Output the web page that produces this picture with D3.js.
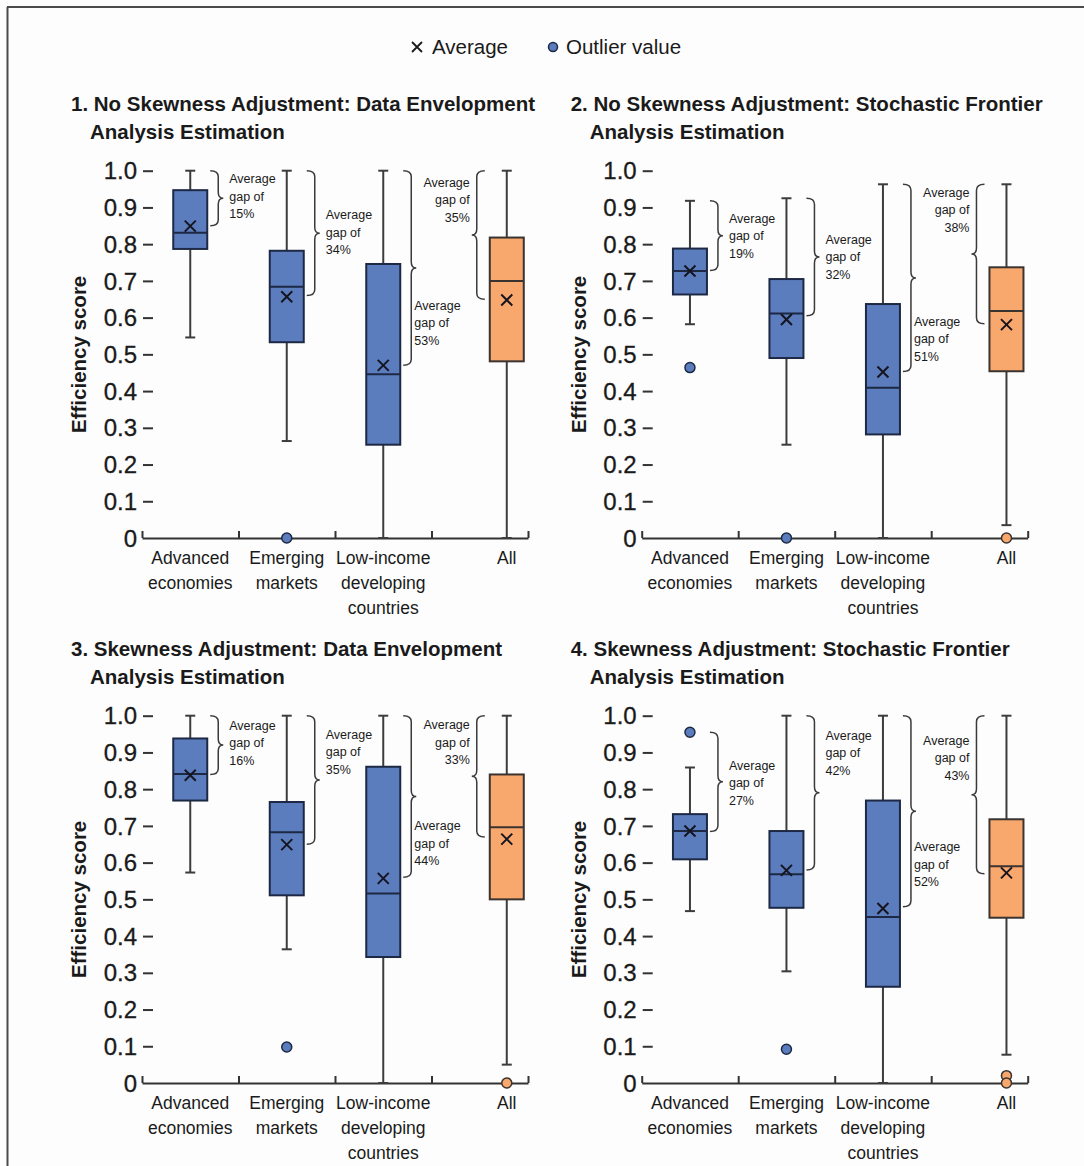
<!DOCTYPE html>
<html>
<head>
<meta charset="utf-8">
<script src="https://cdn.jsdelivr.net/npm/d3@7"></script>
<style>
  html, body { margin: 0; padding: 0; background: #ffffff; }
  svg { display: block; font-family: "Liberation Sans", Arial, sans-serif; }
</style>
</head>
<body>
<svg id="chart" width="1084" height="1166"></svg>
<script>
// ---- Data -------------------------------------------------------------
const categories = ["Advanced economies", "Emerging markets", "Low-income developing countries", "All"];
const categoryLines = [["Advanced", "economies"], ["Emerging", "markets"], ["Low-income", "developing", "countries"], ["All"]];
const yTickValues = [0, 0.1, 0.2, 0.3, 0.4, 0.5, 0.6, 0.7, 0.8, 0.9, 1.0];

const panelTitles = [
  ["1. No Skewness Adjustment: Data Envelopment", "Analysis Estimation"],
  ["2. No Skewness Adjustment: Stochastic Frontier", "Analysis Estimation"],
  ["3. Skewness Adjustment: Data Envelopment", "Analysis Estimation"],
  ["4. Skewness Adjustment: Stochastic Frontier", "Analysis Estimation"]
];

// Box statistics per panel, one value per category
const whiskerHigh = [
  [1.0, 1.0, 1.0, 1.0],
  [0.918, 0.925, 0.963, 0.963],
  [1.0, 1.0, 1.0, 1.0],
  [0.859, 1.0, 1.0, 1.0]
];
const upperQuartile = [
  [0.947, 0.782, 0.746, 0.818],
  [0.788, 0.705, 0.637, 0.737],
  [0.938, 0.765, 0.861, 0.840],
  [0.732, 0.686, 0.769, 0.718]
];
const medians = [
  [0.831, 0.684, 0.446, 0.700],
  [0.727, 0.611, 0.409, 0.618],
  [0.841, 0.683, 0.516, 0.696],
  [0.686, 0.568, 0.452, 0.590]
];
const lowerQuartile = [
  [0.787, 0.533, 0.254, 0.481],
  [0.663, 0.490, 0.282, 0.454],
  [0.769, 0.511, 0.343, 0.500],
  [0.609, 0.477, 0.262, 0.450]
];
const whiskerLow = [
  [0.546, 0.264, 0, 0],
  [0.582, 0.254, 0, 0.035],
  [0.573, 0.364, 0, 0.05],
  [0.468, 0.304, 0, 0.077]
];
const averages = [
  [0.849, 0.657, 0.470, 0.648],
  [0.727, 0.595, 0.452, 0.581],
  [0.838, 0.649, 0.557, 0.664],
  [0.686, 0.579, 0.475, 0.572]
];
const outliers = [
  [[], [0], [], []],
  [[0.464], [0], [], [0]],
  [[], [0.098], [], [0]],
  [[0.955], [0.092], [], [0.02, 0]]
];
// Average gap to the frontier, in percent
const averageGaps = [
  [15, 34, 53, 35],
  [19, 32, 51, 38],
  [16, 35, 44, 33],
  [27, 42, 52, 43]
];

// ---- Layout -------------------------------------------------------------
const W = 1084, H = 1166;
const panelOrigins = [[0, 0], [499.7, 0], [0, 545], [499.7, 545]];
const plotLeft = 142, plotRight = 528, plotTop = 170.7, plotBottom = 538;
const boxWidth = 34, capHalf = 5;
// vertical shift (px) of each gap label block relative to its brace tip
const gapLabelShift = [
  [-2, -1, 55, -35],
  [0, 0, 61, -44],
  [-2, -28, 47, -34],
  [1, -40, 53, -37]
];

const blueFill = "#5b7cbd", blueStroke = "#1d2944";
const orangeFill = "#f9a86d", orangeStroke = "#3a3330";
const whiskerColor = "#3c3c3c";
const textColor = "#1a1a1a";

const svg = d3.select("#chart");
svg.append("rect").attr("width", W).attr("height", H).attr("fill", "#fdfdfd");

// frame lines at top and left
svg.append("line").attr("x1", 7).attr("x2", W).attr("y1", 7).attr("y2", 7)
  .attr("stroke", "#4a4a4a").attr("stroke-width", 2);
svg.append("line").attr("x1", 7.5).attr("x2", 7.5).attr("y1", 7).attr("y2", H)
  .attr("stroke", "#4a4a4a").attr("stroke-width", 2);

// Legend
const legend = svg.append("g").attr("transform", "translate(0,47)");
legend.append("path").attr("d", "M412,-5L422,5M412,5L422,-5")
  .attr("stroke", textColor).attr("stroke-width", 1.8).attr("fill", "none");
legend.append("text").attr("x", 432).attr("y", 7).attr("font-size", 20.5)
  .attr("fill", textColor).text("Average");
legend.append("circle").attr("cx", 553).attr("cy", 0).attr("r", 4.5)
  .attr("fill", blueFill).attr("stroke", blueStroke).attr("stroke-width", 1.5);
legend.append("text").attr("x", 566).attr("y", 7).attr("font-size", 20.5)
  .attr("fill", textColor).text("Outlier value");

// scales shared by every panel (positions are relative to panel origin)
const y = d3.scaleLinear().domain([0, 1]).range([plotBottom, plotTop]);
const slot = d3.scaleLinear().domain([0, 4]).range([plotLeft, plotRight]);
const slotOf = d3.scaleOrdinal().domain(categories).range([0.5, 1.5, 2.5, 3.78]);
const xCenter = c => slot(slotOf(c));

function bracePath(x0, yTop, yBot, dir) {
  const w = 13, xm = x0 + dir * 8, xt = x0 + dir * w;
  const ym = (yTop + yBot) / 2, r = 6;
  return `M${x0},${yTop}Q${xm},${yTop} ${xm},${yTop + r}L${xm},${ym - r}` +
         `Q${xm},${ym} ${xt},${ym}Q${xm},${ym} ${xm},${ym + r}` +
         `L${xm},${yBot - r}Q${xm},${yBot} ${x0},${yBot}`;
}

panelOrigins.forEach(([ox, oy], p) => {
  const g = svg.append("g").attr("transform", `translate(${ox},${oy})`);

  // title
  const title = g.append("text").attr("font-size", 20.5).attr("font-weight", "bold")
    .attr("fill", textColor);
  title.append("tspan").attr("x", 71).attr("y", 111).text(panelTitles[p][0]);
  title.append("tspan").attr("x", 90).attr("y", 139).text(panelTitles[p][1]);

  // y axis: short dashes pointing into the plot
  const yAxis = d3.axisLeft(y).tickValues(yTickValues).tickSize(-10).tickPadding(6)
    .tickFormat(d => d === 0 ? "0" : d3.format(".1f")(d));
  const ya = g.append("g").attr("transform", `translate(${plotLeft + 1},0)`).call(yAxis);
  ya.select(".domain").remove();
  ya.selectAll(".tick line").attr("stroke", "#333").attr("stroke-width", 2)
    .filter(d => d === 0).remove();
  ya.selectAll(".tick text").attr("font-size", 24).attr("fill", textColor)
    .attr("font-family", "\"Liberation Sans\", Arial, sans-serif").attr("dy", "0.34em")
    .attr("stroke", textColor).attr("stroke-width", 0.3);

  g.append("text")
    .attr("transform", `translate(86,${(plotTop + plotBottom) / 2}) rotate(-90)`)
    .attr("text-anchor", "middle").attr("font-size", 20.5).attr("font-weight", "bold")
    .attr("fill", textColor).text("Efficiency score");

  // x axis: baseline with upward ticks between groups
  const xAxis = d3.axisBottom(slot).tickValues([0, 1, 2, 3, 4]).tickSize(-7)
    .tickSizeOuter(0).tickFormat("");
  const xa = g.append("g").attr("transform", `translate(0,${plotBottom})`).call(xAxis);
  xa.select(".domain").attr("stroke", "#333").attr("stroke-width", 2);
  xa.selectAll(".tick line").attr("stroke", "#333").attr("stroke-width", 2);

  // category labels
  categories.forEach((c, i) => {
    const t = g.append("text").attr("text-anchor", "middle").attr("font-size", 17.5)
      .attr("fill", textColor);
    categoryLines[i].forEach((line, k) => {
      t.append("tspan").attr("x", xCenter(c)).attr("y", plotBottom + 26 + k * 25).text(line);
    });
  });

  // boxes
  categories.forEach((c, i) => {
    const cx = xCenter(c);
    const isAll = c === "All";
    const fill = isAll ? orangeFill : blueFill;
    const stroke = isAll ? orangeStroke : blueStroke;
    const b = g.append("g");

    b.append("line").attr("x1", cx).attr("x2", cx)
      .attr("y1", y(whiskerHigh[p][i])).attr("y2", y(whiskerLow[p][i]))
      .attr("stroke", whiskerColor).attr("stroke-width", 2);
    [whiskerHigh[p][i], whiskerLow[p][i]].forEach(v => {
      b.append("line").attr("x1", cx - capHalf).attr("x2", cx + capHalf)
        .attr("y1", y(v)).attr("y2", y(v))
        .attr("stroke", whiskerColor).attr("stroke-width", 2);
    });

    b.append("rect").attr("x", cx - boxWidth / 2).attr("width", boxWidth)
      .attr("y", y(upperQuartile[p][i]))
      .attr("height", y(lowerQuartile[p][i]) - y(upperQuartile[p][i]))
      .attr("fill", fill).attr("stroke", stroke).attr("stroke-width", 2);
    b.append("line").attr("x1", cx - boxWidth / 2).attr("x2", cx + boxWidth / 2)
      .attr("y1", y(medians[p][i])).attr("y2", y(medians[p][i]))
      .attr("stroke", stroke).attr("stroke-width", 2);

    const my = y(averages[p][i]), s = 5.5;
    b.append("path")
      .attr("d", `M${cx - s},${my - s}L${cx + s},${my + s}M${cx - s},${my + s}L${cx + s},${my - s}`)
      .attr("stroke", "#15151f").attr("stroke-width", 2).attr("fill", "none");

    outliers[p][i].forEach(v => {
      b.append("circle").attr("cx", cx).attr("cy", y(v)).attr("r", 5)
        .attr("fill", fill).attr("stroke", stroke).attr("stroke-width", 1.5);
    });

    // brace spanning the average gap from the best performer
    const topVal = d3.max([whiskerHigh[p][i], ...outliers[p][i]]);
    const botVal = topVal - averageGaps[p][i] / 100;
    const dir = isAll ? -1 : 1;
    const x0 = isAll ? cx - 22 : cx + 20;
    const yTop = y(topVal), yBot = y(botVal);
    g.append("path").attr("d", bracePath(x0, yTop, yBot, dir))
      .attr("fill", "none").attr("stroke", "#3a3a3a").attr("stroke-width", 1.5);

    const tipX = x0 + dir * 13;
    const centerY = (yTop + yBot) / 2 + gapLabelShift[p][i];
    let lx, anchor;
    if (isAll) { lx = tipX - 2; anchor = "end"; }
    else if (i === 2) { lx = tipX - 2; anchor = "start"; }
    else { lx = tipX + 6; anchor = "start"; }
    const lt = g.append("text").attr("font-size", 12.5).attr("fill", textColor)
      .attr("text-anchor", anchor);
    ["Average", "gap of", averageGaps[p][i] + "%"].forEach((line, k) => {
      lt.append("tspan").attr("x", lx).attr("y", centerY + (k - 1) * 17.5 + 4.4).text(line);
    });
  });
});
</script>
</body>
</html>
